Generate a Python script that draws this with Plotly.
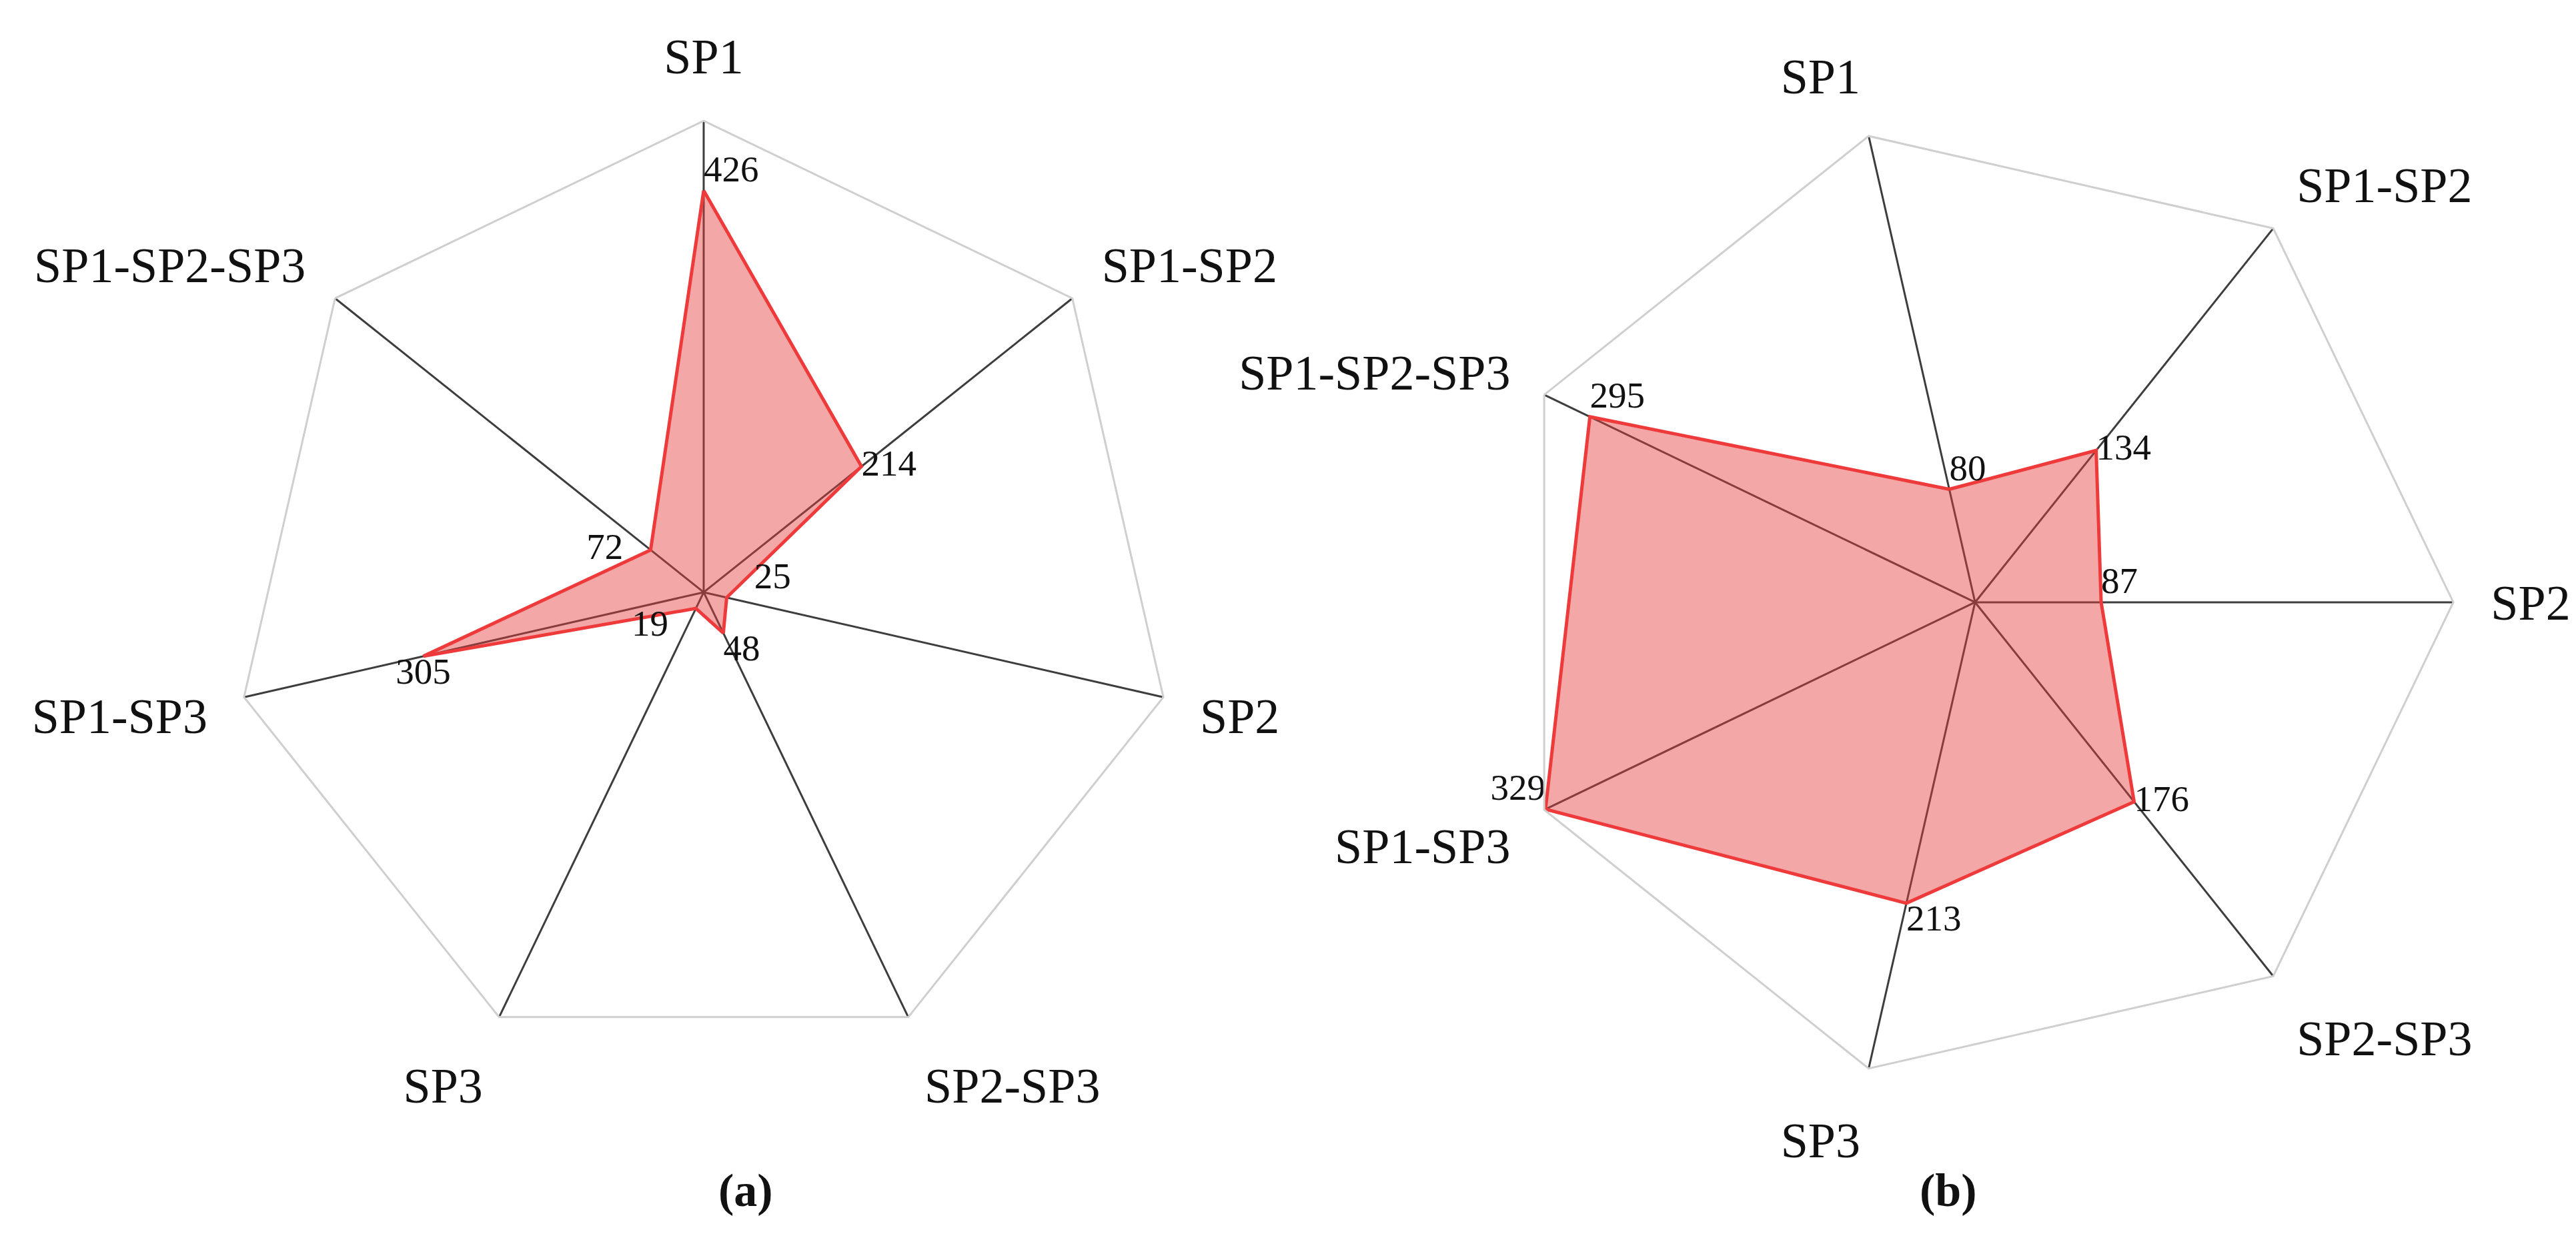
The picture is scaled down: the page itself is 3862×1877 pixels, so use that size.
import plotly.graph_objects as go

# categories, in clockwise order starting from the first spoke
CATS_A = ["SP1", "SP1-SP2", "SP2", "SP2-SP3", "SP3", "SP1-SP3", "SP1-SP2-SP3"]
CATS_B = ["SP1", "SP1-SP2", "SP2", "SP2-SP3", "SP3", "SP1-SP3", "SP1-SP2-SP3"]

# counts per panel
VALUES_A = [426, 214, 25, 48, 19, 305, 72]
VALUES_B = [80, 134, 87, 176, 213, 329, 295]

# where each data label sits relative to its point
LABEL_POS_A = ["top right", "middle right", "top right", "bottom right",
               "bottom left", "bottom center", "middle left"]
LABEL_POS_B = ["top right", "middle right", "top right", "middle right",
               "bottom right", "top left", "top right"]
# extra gap (in spaces) between a label and its point, small values only
LABEL_GAP_A = [0, 0, 3, 0, 3, 0, 3]
LABEL_GAP_B = [0, 0, 0, 0, 0, 0, 0]

FONT = "Liberation Serif"
LINE_RED = "#ee3a3a"
FILL_RED = "rgba(230, 60, 60, 0.45)"
NBSP = "\u00a0"

W, H = 3862, 1877


def label_text(value, pos, gap):
    pad = NBSP * gap
    if pos.endswith("left"):
        return f"{value}{pad}"
    return f"{pad}{value}"


def radar_traces(cats, values, positions, gaps, subplot):
    closed_theta = cats + cats[:1]
    closed_r = values + values[:1]
    area = go.Scatterpolar(
        r=closed_r,
        theta=closed_theta,
        mode="lines",
        fill="toself",
        fillcolor=FILL_RED,
        line=dict(color=LINE_RED, width=5),
        subplot=subplot,
        showlegend=False,
        hoverinfo="skip",
    )
    labels = go.Scatterpolar(
        r=values,
        theta=cats,
        mode="text",
        text=[label_text(v, p, g) for v, p, g in zip(values, positions, gaps)],
        textposition=positions,
        textfont=dict(family=FONT, size=55, color="#111111"),
        subplot=subplot,
        showlegend=False,
    )
    return [area, labels]


fig = go.Figure()
for tr in radar_traces(CATS_A, VALUES_A, LABEL_POS_A, LABEL_GAP_A, "polar"):
    fig.add_trace(tr)
for tr in radar_traces(CATS_B, VALUES_B, LABEL_POS_B, LABEL_GAP_B, "polar2"):
    fig.add_trace(tr)

params_angular = dict(
    type="category",
    direction="clockwise",
    showgrid=True,
    gridcolor="#3d3d3d",
    gridwidth=3,
    showline=True,
    linecolor="#cfcfcf",
    linewidth=3,
    ticks="outside",
    ticklen=40,
    tickcolor="rgba(0,0,0,0)",
    tickfont=dict(family=FONT, size=74, color="#111111"),
)
params_radial = dict(
    visible=False,
    showgrid=False,
    showline=False,
    showticklabels=False,
    ticks="",
)

fig.update_layout(
    width=W,
    height=H,
    autosize=False,
    margin=dict(l=0, r=0, t=0, b=0),
    paper_bgcolor="white",
    polar=dict(
        domain=dict(x=[0.0880, 0.4542], y=[0.1546, 0.9078]),
        bgcolor="white",
        gridshape="linear",
        angularaxis=dict(rotation=90, categoryarray=CATS_A, **params_angular),
        radialaxis=dict(range=[0, 500], **params_radial),
    ),
    polar2=dict(
        domain=dict(x=[0.5790, 0.9503], y=[0.1412, 0.9052]),
        bgcolor="white",
        gridshape="linear",
        angularaxis=dict(rotation=90 + 360 / 28, categoryarray=CATS_B, **params_angular),
        radialaxis=dict(range=[0, 330], **params_radial),
    ),
    annotations=[
        dict(text="<b>(a)</b>", x=1067 / W, y=1 - 1817 / H, xref="paper", yref="paper",
             showarrow=False, font=dict(family=FONT, size=70, color="#111111")),
        dict(text="<b>(b)</b>", x=2958 / W, y=1 - 1817 / H, xref="paper", yref="paper",
             showarrow=False, font=dict(family=FONT, size=70, color="#111111")),
    ],
)

fig.write_html("out.html")
